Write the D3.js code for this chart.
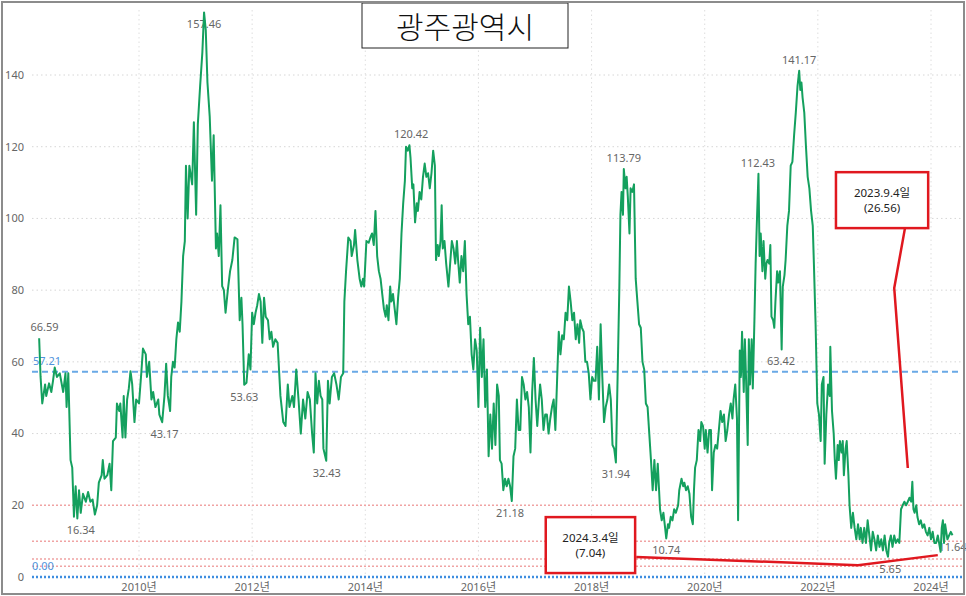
<!DOCTYPE html>
<html>
<head>
<meta charset="utf-8">
<script src="https://cdn.jsdelivr.net/npm/d3@7"></script>
<style>
  body { margin: 0; background: #fff; }
  svg { display: block; }
  text { font-family: "Noto Sans", "Noto Sans CJK KR", sans-serif; }
</style>
</head>
<body>
<div id="chart"></div>
<script>
// chart size
const svgWidth = 966;
const svgHeight = 596;

// weekly index: [decimal year, value]
const points = [
  [2008.235, 66.59], [2008.26, 55.8], [2008.29, 48.4], [2008.34, 53.7], [2008.36, 50.5], [2008.41, 54],
  [2008.45, 51.6], [2008.48, 54.7], [2008.51, 58.4], [2008.55, 55.8], [2008.60, 56.8], [2008.66, 51.6],
  [2008.70, 56.8], [2008.72, 47.4], [2008.75, 56.8], [2008.79, 32.6], [2008.82, 30.5], [2008.85, 16.8],
  [2008.88, 25.3], [2008.91, 16.34], [2008.94, 24.2], [2008.97, 17.9], [2009.01, 23.2], [2009.06, 21],
  [2009.10, 23.7], [2009.14, 21], [2009.18, 21.6], [2009.22, 17.4], [2009.26, 20], [2009.29, 26.3],
  [2009.34, 28.4], [2009.36, 32.6], [2009.39, 27.4], [2009.44, 28.4], [2009.48, 31.6], [2009.51, 24.2],
  [2009.54, 37.9], [2009.59, 38.9], [2009.61, 48.4], [2009.65, 46.3], [2009.67, 48.4], [2009.71, 38.9],
  [2009.73, 50.5], [2009.76, 38.9], [2009.79, 49.5], [2009.82, 52.6], [2009.85, 57.4], [2009.88, 53.7],
  [2009.92, 43.2], [2009.95, 49.5], [2010.00, 48.4], [2010.04, 56.8], [2010.07, 63.7], [2010.12, 62.1],
  [2010.14, 55.8], [2010.18, 60], [2010.22, 49.5], [2010.25, 51.6], [2010.29, 47.4], [2010.34, 49.5],
  [2010.36, 45.3], [2010.41, 43.17], [2010.45, 50.5], [2010.48, 59.5], [2010.51, 50.5], [2010.55, 46.3],
  [2010.57, 55.8], [2010.60, 60], [2010.63, 58.4], [2010.66, 66.3], [2010.69, 71], [2010.72, 68.4],
  [2010.75, 76.8], [2010.78, 89.5], [2010.81, 93.7], [2010.83, 114.7], [2010.86, 100], [2010.89, 114.7],
  [2010.94, 109.5], [2010.97, 126.8], [2011.01, 101], [2011.04, 126.3], [2011.08, 136.8], [2011.12, 146.3],
  [2011.15, 157.46], [2011.18, 152.6], [2011.21, 137.9], [2011.25, 128.4], [2011.29, 110.5], [2011.32, 123.2],
  [2011.36, 91.6], [2011.38, 95.8], [2011.41, 89.5], [2011.44, 103.7], [2011.47, 81.1], [2011.50, 80],
  [2011.53, 73.7], [2011.57, 80], [2011.61, 85.3], [2011.65, 88.4], [2011.69, 94.7], [2011.74, 94.2],
  [2011.78, 71.6], [2011.81, 77.9], [2011.83, 70.5], [2011.86, 53.63], [2011.90, 54.2], [2011.94, 62.1],
  [2011.97, 57.9], [2012.00, 73.7], [2012.03, 70.5], [2012.06, 73.7], [2012.09, 75.8], [2012.12, 78.9],
  [2012.15, 76.8], [2012.18, 65.3], [2012.21, 77.9], [2012.24, 72.6], [2012.28, 71.6], [2012.31, 66.3],
  [2012.34, 68.4], [2012.37, 64.2], [2012.41, 66.3], [2012.45, 65.3], [2012.50, 50.5], [2012.55, 43.2],
  [2012.59, 42.1], [2012.63, 53.7], [2012.66, 47.4], [2012.71, 50.5], [2012.74, 47.4], [2012.78, 57.9],
  [2012.82, 49.5], [2012.86, 40], [2012.90, 49.5], [2012.94, 44.2], [2012.98, 51.6], [2013.02, 49.5],
  [2013.06, 40], [2013.09, 34.7], [2013.12, 56.8], [2013.15, 48.4], [2013.18, 54.7], [2013.21, 50.5],
  [2013.24, 49.5], [2013.26, 35.8], [2013.31, 32.43], [2013.34, 54.7], [2013.37, 48.4], [2013.41, 55.8],
  [2013.45, 56.8], [2013.49, 53.7], [2013.53, 49.5], [2013.57, 55.8], [2013.61, 56.8], [2013.63, 76.8],
  [2013.66, 85.3], [2013.70, 94.7], [2013.74, 93.7], [2013.76, 89.5], [2013.80, 92.6], [2013.82, 96.8],
  [2013.86, 88.4], [2013.90, 83.2], [2013.93, 81], [2013.96, 83.2], [2013.98, 81], [2014.00, 87.4],
  [2014.02, 93.7], [2014.06, 93.2], [2014.09, 94.7], [2014.12, 95.8], [2014.15, 92.6], [2014.18, 102.1],
  [2014.21, 89.5], [2014.24, 85.3], [2014.27, 83.2], [2014.30, 78.9], [2014.33, 74.7], [2014.36, 72.6],
  [2014.38, 75.8], [2014.41, 71.6], [2014.44, 81], [2014.46, 76.8], [2014.49, 78.9], [2014.52, 74.7],
  [2014.55, 70.5], [2014.58, 77.9], [2014.61, 83.2], [2014.64, 95.8], [2014.67, 104.2], [2014.70, 110.5],
  [2014.72, 120], [2014.75, 118.9], [2014.78, 120.42], [2014.80, 116.8], [2014.83, 108.4], [2014.85, 109.5],
  [2014.88, 98.9], [2014.91, 104.2], [2014.93, 102.1], [2014.96, 107.4], [2014.99, 105.3], [2015.02, 111.6],
  [2015.05, 115.3], [2015.08, 111.6], [2015.11, 112.6], [2015.14, 108.4], [2015.17, 112.6], [2015.20, 118.9],
  [2015.23, 114.7], [2015.25, 88.4], [2015.28, 92.6], [2015.30, 89.5], [2015.33, 93.7], [2015.35, 103.7],
  [2015.37, 91.6], [2015.40, 93.7], [2015.43, 87.4], [2015.47, 81], [2015.50, 87.4], [2015.53, 93.7],
  [2015.56, 91.6], [2015.59, 87.4], [2015.62, 93.7], [2015.64, 88.4], [2015.67, 82.1], [2015.70, 89.5],
  [2015.73, 85.3], [2015.76, 93.7], [2015.79, 78.9], [2015.82, 70.5], [2015.85, 72.6], [2015.88, 62.1],
  [2015.91, 57.9], [2015.94, 66.3], [2015.97, 63.2], [2016.00, 47.4], [2016.03, 69.5], [2016.06, 55.8],
  [2016.09, 66.3], [2016.12, 47.4], [2016.15, 57.9], [2016.18, 33.7], [2016.21, 45.3], [2016.24, 35.8],
  [2016.27, 48.4], [2016.30, 36.8], [2016.33, 53.7], [2016.36, 50.5], [2016.38, 32.6], [2016.41, 31.6],
  [2016.44, 24.2], [2016.47, 27.4], [2016.50, 25.3], [2016.53, 27.4], [2016.56, 25.3], [2016.59, 21.18],
  [2016.62, 33.7], [2016.65, 35.8], [2016.68, 49.5], [2016.71, 41], [2016.74, 41], [2016.77, 55.8],
  [2016.80, 53.7], [2016.83, 49.5], [2016.86, 51.6], [2016.89, 47.4], [2016.92, 34.7], [2016.95, 51.6],
  [2016.98, 61.1], [2017.01, 49.5], [2017.04, 42.1], [2017.07, 49.5], [2017.09, 53.7], [2017.12, 49.5],
  [2017.15, 41], [2017.18, 45.3], [2017.21, 45.3], [2017.24, 40], [2017.27, 44.2], [2017.30, 47.4],
  [2017.33, 49.5], [2017.36, 41], [2017.39, 54.7], [2017.42, 68.4], [2017.45, 62.1], [2017.48, 67.4],
  [2017.51, 66.3], [2017.54, 73.7], [2017.57, 71.6], [2017.60, 81], [2017.63, 76.8], [2017.66, 71.6],
  [2017.69, 73.7], [2017.72, 66.3], [2017.75, 70.5], [2017.78, 65.3], [2017.80, 71.6], [2017.83, 69.5],
  [2017.86, 68.4], [2017.89, 60], [2017.92, 60], [2017.95, 56.8], [2017.98, 49.5], [2018.01, 55.8],
  [2018.04, 54.7], [2018.07, 54.7], [2018.10, 64.2], [2018.13, 49.5], [2018.16, 70.5], [2018.19, 55.8],
  [2018.22, 43.2], [2018.25, 47.4], [2018.28, 49.5], [2018.31, 53.7], [2018.34, 49.5], [2018.37, 36.8],
  [2018.40, 35.8], [2018.43, 31.94], [2018.46, 55.8], [2018.49, 80], [2018.51, 101], [2018.53, 107.4],
  [2018.555, 101], [2018.57, 113.79], [2018.60, 108.4], [2018.62, 111.6], [2018.64, 106.3], [2018.67, 95.8],
  [2018.69, 108.4], [2018.72, 107.4], [2018.75, 109.5], [2018.78, 83.2], [2018.81, 76.8], [2018.84, 70.5],
  [2018.87, 69.5], [2018.90, 60], [2018.93, 57.9], [2018.96, 48.4], [2018.99, 47.4], [2019.02, 40],
  [2019.05, 32.6], [2019.08, 24.2], [2019.11, 32.6], [2019.14, 24.2], [2019.17, 31.6], [2019.21, 18.9],
  [2019.24, 15.8], [2019.27, 17.9], [2019.30, 13.7], [2019.32, 10.74], [2019.35, 14.7], [2019.37, 13.7],
  [2019.40, 16.8], [2019.43, 15.8], [2019.46, 18.9], [2019.49, 17.9], [2019.53, 20], [2019.55, 24.2],
  [2019.59, 27.4], [2019.62, 25.3], [2019.64, 26.3], [2019.67, 24.2], [2019.70, 25.3], [2019.73, 23.2],
  [2019.76, 16.8], [2019.79, 14.7], [2019.81, 24.2], [2019.83, 30.5], [2019.86, 32.6], [2019.89, 41],
  [2019.92, 37.9], [2019.94, 43.2], [2019.97, 42.1], [2020.00, 35.8], [2020.02, 41], [2020.05, 34.7],
  [2020.08, 41], [2020.11, 41], [2020.13, 24.2], [2020.16, 34.7], [2020.19, 36.8], [2020.22, 35.8],
  [2020.25, 41], [2020.28, 46.3], [2020.31, 43.2], [2020.34, 45.3], [2020.37, 37.9], [2020.40, 41],
  [2020.43, 45.3], [2020.46, 48.4], [2020.49, 44.2], [2020.51, 49.5], [2020.54, 53.7], [2020.57, 44.2],
  [2020.59, 15.8], [2020.62, 63.2], [2020.64, 55.8], [2020.66, 68.4], [2020.69, 51.6], [2020.71, 66.3],
  [2020.73, 55.8], [2020.76, 36.8], [2020.78, 66.3], [2020.80, 53.7], [2020.83, 66.3], [2020.85, 52.6],
  [2020.88, 72.6], [2020.90, 87.4], [2020.92, 97.9], [2020.95, 112.43], [2020.97, 89.5], [2020.99, 95.8],
  [2021.02, 85.3], [2021.04, 93.7], [2021.07, 83.2], [2021.09, 87.4], [2021.11, 88.4], [2021.14, 87.4],
  [2021.16, 92.6], [2021.18, 72.6], [2021.21, 71.6], [2021.23, 69.5], [2021.25, 76.8], [2021.28, 85.3],
  [2021.30, 82.1], [2021.33, 85.3], [2021.36, 63.42], [2021.38, 81], [2021.41, 84.2], [2021.43, 88.4],
  [2021.46, 97.9], [2021.49, 102.1], [2021.52, 114.7], [2021.55, 115.8], [2021.58, 123.2], [2021.61, 129.5],
  [2021.64, 136.8], [2021.67, 141.17], [2021.69, 135.8], [2021.71, 137.9], [2021.73, 133.7], [2021.76, 129.5],
  [2021.79, 120], [2021.82, 111.6], [2021.85, 108.4], [2021.88, 102.1], [2021.91, 97.9], [2021.93, 87.4],
  [2021.96, 70.5], [2021.99, 48.4], [2022.02, 45.3], [2022.05, 37.9], [2022.07, 53.7], [2022.10, 55.8],
  [2022.12, 31.6], [2022.15, 45.3], [2022.18, 53.7], [2022.21, 50.5], [2022.22, 64.2], [2022.25, 46.3],
  [2022.28, 40], [2022.30, 32.6], [2022.32, 27.4], [2022.35, 36.8], [2022.37, 32.6], [2022.39, 37.9],
  [2022.42, 34.7], [2022.44, 37.9], [2022.46, 28.4], [2022.49, 35.8], [2022.51, 37.9], [2022.54, 28.4],
  [2022.56, 20], [2022.59, 13.7], [2022.62, 17.9], [2022.65, 13.7], [2022.68, 10.5], [2022.71, 14.7],
  [2022.74, 10.5], [2022.76, 13.7], [2022.79, 9.5], [2022.82, 13.7], [2022.85, 9.5], [2022.88, 15.8],
  [2022.91, 11.6], [2022.94, 7.4], [2022.97, 12.6], [2023.00, 10.5], [2023.03, 7.4], [2023.06, 11.6],
  [2023.09, 8.4], [2023.12, 10.5], [2023.15, 7.4], [2023.18, 11.6], [2023.21, 7.4], [2023.24, 5.65],
  [2023.26, 9.5], [2023.29, 11.6], [2023.32, 8.4], [2023.35, 11.6], [2023.38, 9.5], [2023.41, 10.5],
  [2023.44, 9.5], [2023.47, 18.9], [2023.50, 20], [2023.53, 21], [2023.56, 20], [2023.59, 21],
  [2023.62, 22.1], [2023.65, 21], [2023.67, 26.56], [2023.69, 18.9], [2023.71, 17.9], [2023.74, 20],
  [2023.76, 16.8], [2023.79, 14.7], [2023.82, 15.8], [2023.85, 13.7], [2023.88, 14.7], [2023.91, 12.6],
  [2023.94, 11.6], [2023.97, 13.7], [2024.00, 10.5], [2024.03, 12.6], [2024.06, 9.5], [2024.09, 9.5],
  [2024.12, 11.6], [2024.17, 7.04], [2024.19, 13.7], [2024.21, 15.8], [2024.23, 9.5], [2024.25, 14.7],
  [2024.27, 12.6], [2024.29, 10.5], [2024.32, 11.6], [2024.35, 12.6], [2024.38, 11.64]
];

// min / max value labels: [year, value, text, side]
const peakLabels = [
  [2008.33, 66.59, "66.59", "up"],
  [2008.97, 16.34, "16.34", "down"],
  [2010.45, 43.17, "43.17", "down"],
  [2011.15, 157.46, "157.46", "down"],
  [2011.86, 53.63, "53.63", "down"],
  [2013.32, 32.43, "32.43", "down"],
  [2014.81, 120.42, "120.42", "up"],
  [2016.56, 21.18, "21.18", "down"],
  [2018.57, 113.79, "113.79", "up"],
  [2018.43, 31.94, "31.94", "down"],
  [2019.32, 10.74, "10.74", "down"],
  [2020.94, 112.43, "112.43", "up"],
  [2021.67, 141.17, "141.17", "up"],
  [2021.35, 63.42, "63.42", "down"],
  [2023.28, 5.65, "5.65", "down"],
  [2024.38, 11.64, "11.64", "down"]
];

// axis ticks
const yTicks = [0, 20, 40, 60, 80, 100, 120, 140];
const xTicks = [2010, 2012, 2014, 2016, 2018, 2020, 2022, 2024];
const xTickLabels = ["2010년", "2012년", "2014년", "2016년", "2018년", "2020년", "2022년", "2024년"];

// reference lines
const averageLine = 57.21;
const zeroLine = 0;
const redLines = [20, 10, 5, 3];

// callouts: text, box corners [year0, value0, year1, value1], leader path in data units
const callouts = [
  { lines: ["2023.9.4일", "(26.56)"], box: [2022.32, 112.9, 2023.95, 97.3],
    path: [[2023.54, 97.3], [2023.35, 80.6], [2023.59, 30.4]] },
  { lines: ["2024.3.4일", "(7.04)"], box: [2017.19, 16.7, 2018.77, 1.1],
    path: [[2018.79, 5.6], [2022.71, 3.3], [2024.12, 6.1]] }
];

const title = "광주광역시";

const svg = d3.select("#chart")
  .append("svg")
  .attr("width", svgWidth)
  .attr("height", svgHeight);

const x = d3.scaleLinear().domain([2010, 2024]).range([139, 931]);
const y = d3.scaleLinear().domain([0, 140]).range([577, 75]);

const plotLeft = 32, plotRight = 962, plotTop = 10;

// grid
svg.append("g").selectAll("line")
  .data(yTicks.filter(d => d > 20))
  .enter().append("line")
  .attr("x1", plotLeft).attr("x2", plotRight)
  .attr("y1", d => y(d)).attr("y2", d => y(d))
  .attr("stroke", "#d6d6d6")
  .attr("stroke-width", 1)
  .attr("stroke-dasharray", "1.5,3");

svg.append("g").selectAll("line")
  .data(xTicks)
  .enter().append("line")
  .attr("x1", d => x(d)).attr("x2", d => x(d))
  .attr("y1", plotTop).attr("y2", y(0))
  .attr("stroke", "#dedede")
  .attr("stroke-width", 1)
  .attr("stroke-dasharray", "1.5,3");

// y axis labels
svg.append("g").selectAll("text")
  .data(yTicks)
  .enter().append("text")
  .attr("x", 24)
  .attr("y", d => y(d))
  .attr("dy", "0.35em")
  .attr("text-anchor", "end")
  .attr("font-size", 11)
  .attr("fill", "#666")
  .text(d => d);

// x axis labels
svg.append("g").selectAll("text")
  .data(xTicks)
  .enter().append("text")
  .attr("x", d => x(d))
  .attr("y", 587)
  .attr("dy", "0.35em")
  .attr("text-anchor", "middle")
  .attr("font-size", 11)
  .attr("fill", "#666")
  .text((d, i) => xTickLabels[i]);

// reference lines
svg.append("g").selectAll("line")
  .data(redLines)
  .enter().append("line")
  .attr("x1", plotLeft).attr("x2", plotRight)
  .attr("y1", d => y(d)).attr("y2", d => y(d))
  .attr("stroke", "#f0a3a3")
  .attr("stroke-width", 1.5)
  .attr("stroke-dasharray", "2,2");

svg.append("line")
  .attr("x1", plotLeft).attr("x2", plotRight)
  .attr("y1", y(averageLine)).attr("y2", y(averageLine))
  .attr("stroke", "#69a9e6")
  .attr("stroke-width", 2)
  .attr("stroke-dasharray", "6,4");

svg.append("line")
  .attr("x1", plotLeft).attr("x2", plotRight)
  .attr("y1", y(zeroLine)).attr("y2", y(zeroLine))
  .attr("stroke", "#3f8ee0")
  .attr("stroke-width", 2.5)
  .attr("stroke-dasharray", "2,2");

svg.append("text")
  .attr("x", 33).attr("y", y(averageLine) - 11)
  .attr("dy", "0.35em")
  .attr("font-size", 11)
  .attr("fill", "#4f93dc")
  .text(averageLine.toFixed(2));

svg.append("text")
  .attr("x", 32).attr("y", y(zeroLine) - 11)
  .attr("dy", "0.35em")
  .attr("font-size", 11)
  .attr("fill", "#4f93dc")
  .text(zeroLine.toFixed(2));

// value labels (under the line)
svg.append("g").selectAll("text")
  .data(peakLabels)
  .enter().append("text")
  .attr("x", d => x(d[0]))
  .attr("y", d => y(d[1]) + (d[3] === "up" ? -11 : 12))
  .attr("dy", "0.35em")
  .attr("text-anchor", "middle")
  .attr("font-size", 11)
  .attr("fill", "#666")
  .text(d => d[2]);

// main line
const line = d3.line()
  .x(d => x(d[0]))
  .y(d => y(d[1]));

svg.append("path")
  .datum(points)
  .attr("fill", "none")
  .attr("stroke", "#14a05e")
  .attr("stroke-width", 2)
  .attr("stroke-linejoin", "round")
  .attr("d", line);

// callouts
const calloutG = svg.append("g");
callouts.forEach(c => {
  calloutG.append("path")
    .datum(c.path)
    .attr("fill", "none")
    .attr("stroke", "#e0181f")
    .attr("stroke-width", 2.5)
    .attr("d", line);

  const bx0 = x(c.box[0]), by0 = y(c.box[1]);
  const bx1 = x(c.box[2]), by1 = y(c.box[3]);
  calloutG.append("rect")
    .attr("x", bx0).attr("y", by0)
    .attr("width", bx1 - bx0).attr("height", by1 - by0)
    .attr("fill", "#fff")
    .attr("stroke", "#e0181f")
    .attr("stroke-width", 2.5);

  const cx = (bx0 + bx1) / 2, cy = (by0 + by1) / 2;
  c.lines.forEach((t, i) => {
    calloutG.append("text")
      .attr("x", cx)
      .attr("y", cy + (i - 0.5) * 15)
      .attr("dy", "0.35em")
      .attr("text-anchor", "middle")
      .attr("font-size", 11.5)
      .attr("fill", "#222")
      .text(t);
  });
});

// title
svg.append("rect")
  .attr("x", 362).attr("y", 3)
  .attr("width", 206).attr("height", 45)
  .attr("fill", "#fff")
  .attr("stroke", "#222")
  .attr("stroke-width", 1);

svg.append("text")
  .attr("x", 465).attr("y", 27)
  .attr("dy", "0.35em")
  .attr("text-anchor", "middle")
  .attr("font-size", 30)
  .attr("font-family", "Noto Sans CJK KR")
  .attr("font-weight", 300)
  .attr("fill", "#111")
  .text(title);

// outer frame
svg.append("rect")
  .attr("x", 2).attr("y", 2)
  .attr("width", svgWidth - 4).attr("height", svgHeight - 4)
  .attr("fill", "none")
  .attr("stroke", "#8c8c8c")
  .attr("stroke-width", 2);
</script>
</body>
</html>
